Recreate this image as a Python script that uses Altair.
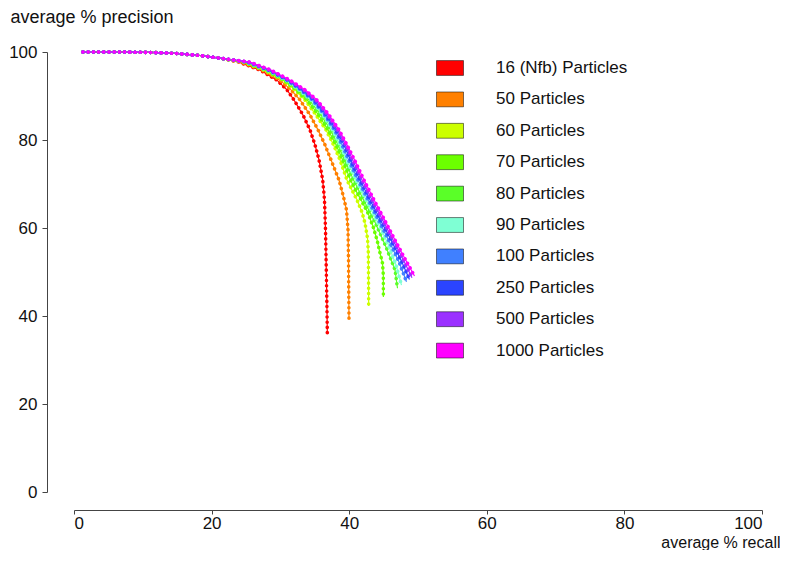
import altair as alt
import pandas as pd

SERIES = ["16 (Nfb) Particles", "50 Particles", "60 Particles", "70 Particles",
          "80 Particles", "90 Particles", "100 Particles", "250 Particles",
          "500 Particles", "1000 Particles"]
COLORS = ["#FF0000", "#FF8000", "#CCFF00", "#6CFF00", "#5AFF28",
          "#7FFFD4", "#4080FF", "#2B44FF", "#9B30FF", "#FF00FF"]

# shared flat start of all curves
HEAD_RECALL = [1.3, 6.7, 11.1, 14.7, 18.3, 21.2]
HEAD_PRECISION = [100.0, 100.0, 99.9, 99.7, 99.2, 98.6]

# upper bend: recall read at these precision levels
UPPER_PRECISION = [97.7, 95.9, 93.6, 91.4, 89.1, 85.7, 82.3, 78.9, 75.5, 70.9]
UPPER_RECALL = {
    "16 (Nfb) Particles": [23.98, 27.03, 29.51, 30.96, 31.98, 33.28, 34.30, 35.03, 35.61, 36.15],
    "50 Particles":       [24.27, 27.33, 29.94, 31.54, 32.85, 34.30, 35.47, 36.48, 37.35, 38.52],
    "60 Particles":       [24.56, 27.62, 30.38, 32.12, 33.58, 35.17, 36.63, 37.72, 38.66, 39.68],
    "70 Particles":       [24.71, 27.76, 30.52, 32.27, 33.87, 35.54, 36.92, 38.08, 39.03, 40.19],
    "80 Particles":       [24.85, 27.91, 30.67, 32.49, 34.16, 35.90, 37.28, 38.37, 39.32, 40.63],
    "90 Particles":       [25.00, 28.05, 30.81, 32.70, 34.45, 36.19, 37.57, 38.66, 39.61, 40.99],
    "100 Particles":      [25.15, 28.20, 30.96, 32.92, 34.67, 36.41, 37.86, 38.95, 39.90, 41.28],
    "250 Particles":      [25.29, 28.34, 31.10, 33.14, 34.88, 36.63, 38.08, 39.24, 40.19, 41.57],
    "500 Particles":      [25.44, 28.49, 31.25, 33.36, 35.10, 36.85, 38.30, 39.46, 40.48, 41.86],
    "1000 Particles":     [25.58, 28.63, 31.40, 33.58, 35.32, 37.06, 38.52, 39.68, 40.77, 42.15],
}

# lower part of each curve
TAIL_RECALL = {
    "16 (Nfb) Particles": [36.41, 36.56, 36.67, 36.77, 36.82],
    "50 Particles":       [39.10, 39.61, 39.83, 39.90, 39.93, 39.97],
    "60 Particles":       [40.41, 41.13, 41.86, 42.30, 42.66, 42.78, 42.81, 42.83],
    "70 Particles":       [40.92, 41.72, 42.73, 43.50, 44.04, 44.48, 44.84, 44.96, 44.97],
    "80 Particles":       [42.08, 43.82, 45.35, 46.66, 47.02],
    "90 Particles":       [42.44, 44.04, 45.64, 46.80, 47.60],
    "100 Particles":      [42.73, 44.26, 45.86, 47.24, 48.33],
    "250 Particles":      [43.02, 44.48, 46.08, 47.53, 48.76],
    "500 Particles":      [43.31, 44.69, 46.22, 47.67, 49.13],
    "1000 Particles":     [43.60, 44.99, 46.51, 47.97, 49.49],
}
TAIL_PRECISION = {
    "16 (Nfb) Particles": [66.4, 59.5, 50.5, 41.4, 36.1],
    "50 Particles":       [67.5, 64.1, 59.5, 52.7, 45.9, 39.5],
    "60 Particles":       [68.6, 66.4, 63.6, 61.1, 57.7, 54.5, 48.2, 42.3],
    "70 Particles":       [68.6, 66.4, 63.4, 60.2, 57.3, 54.3, 52.0, 49.3, 44.3],
    "80 Particles":       [66.4, 61.1, 55.7, 50.5, 46.3],
    "90 Particles":       [66.4, 61.6, 56.4, 51.6, 47.0],
    "100 Particles":      [66.4, 61.8, 56.8, 52.3, 47.8],
    "250 Particles":      [66.4, 62.0, 57.3, 52.7, 48.3],
    "500 Particles":      [66.4, 62.3, 57.7, 53.4, 48.7],
    "1000 Particles":     [66.4, 62.3, 57.7, 53.4, 49.1],
}

rows = []
for s, c in zip(SERIES, COLORS):
    rec = HEAD_RECALL + UPPER_RECALL[s] + TAIL_RECALL[s]
    pre = HEAD_PRECISION + UPPER_PRECISION + TAIL_PRECISION[s]
    for i, (r, p) in enumerate(zip(rec, pre)):
        rows.append({"series": s, "hex": c, "recall": r, "precision": p, "idx": i})
df = pd.DataFrame(rows)

FONT = "Liberation Sans"

x_axis = alt.Axis(
    values=[0, 20, 40, 60, 80, 100], offset=18, tickSize=4, tickWidth=1,
    tickColor="#444", domainColor="#444", domainWidth=1, grid=False,
    labelFont=FONT, labelFontSize=17, labelColor="#111", labelPadding=1,
    title="average % recall", titleFont=FONT, titleFontSize=16,
    titleFontWeight="normal", titleColor="#111", titleAlign="right",
    titleBaseline="alphabetic", titleX=706, titleY=37,
)
y_axis = alt.Axis(
    values=[0, 20, 40, 60, 80, 100], offset=27, tickSize=5, tickWidth=1,
    tickColor="#444", domainColor="#444", domainWidth=1, grid=False,
    labelFont=FONT, labelFontSize=17, labelColor="#111", labelPadding=5,
    title="average % precision", titleFont=FONT, titleFontSize=18,
    titleFontWeight="normal", titleColor="#111", titleAngle=0,
    titleAlign="left", titleBaseline="alphabetic", titleX=-37, titleY=-30,
)

base = alt.Chart(df).encode(
    x=alt.X("recall:Q", scale=alt.Scale(domain=[0, 100], nice=False, zero=False), axis=x_axis),
    y=alt.Y("precision:Q", scale=alt.Scale(domain=[0, 100], nice=False), axis=y_axis),
    order=alt.Order("idx:Q"),
)

stroke_enc = alt.Stroke("hex:N", scale=None)

solid = base.mark_line(strokeWidth=1.2).encode(stroke=stroke_enc)
dots = base.mark_line(strokeWidth=3.6, strokeDash=[0.01, 5.2], strokeCap="round").encode(stroke=stroke_enc)

# legend only (no marks drawn: all rows filtered out, domain is explicit)
legend_layer = base.transform_filter("datum.idx < 0").mark_point(filled=True, size=40, opacity=1).encode(
    color=alt.Color(
        "series:N",
        scale=alt.Scale(domain=SERIES, range=COLORS),
        legend=alt.Legend(
            title=None, orient="none", legendX=362, legendY=2, padding=0,
            symbolType="M-1,-0.55H1V0.55H-1Z", symbolSize=729, symbolOpacity=1,
            symbolStrokeColor="rgba(0,0,0,0.5)", symbolStrokeWidth=1,
            labelFont=FONT, labelFontSize=17,
            labelColor="#111", labelOffset=32, rowPadding=7.4,
        ),
    )
)

chart = alt.layer(solid, dots, legend_layer).properties(
    width=688, height=440,
    autosize=alt.AutoSizeParams(type="none"),
    padding={"left": 66, "top": 44, "right": 18, "bottom": 58},
    background="white",
).configure_view(stroke=None)

chart.save("out.html", embed_options={"renderer": "svg", "actions": False})
